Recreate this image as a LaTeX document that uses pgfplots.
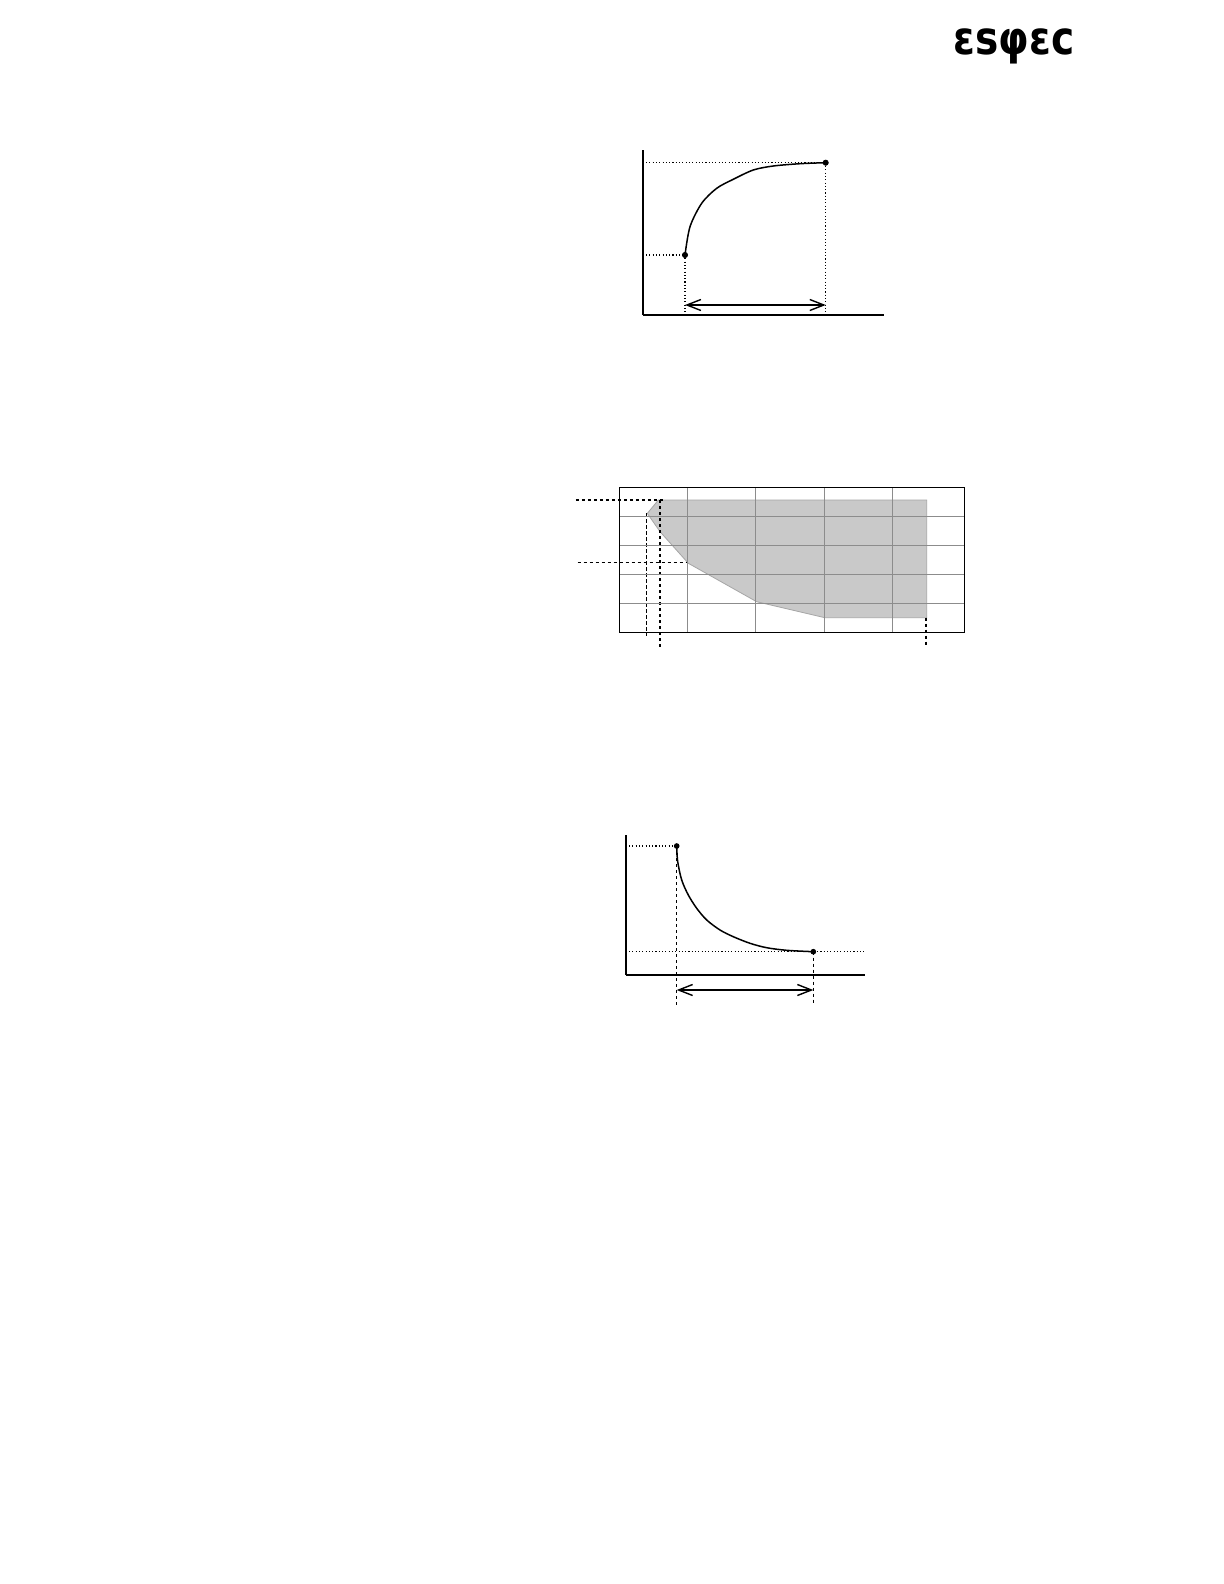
\documentclass[border=0pt]{standalone}
\usepackage{pgfplots}
\pgfplotsset{compat=1.18}
\usepackage{fontspec}
\newfontfamily\logofont{DejaVu Sans}
\usetikzlibrary{arrows.meta}
\tikzset{
  dotl/.style={line width=0.55pt, dash pattern=on 0.55pt off 1.1pt},
  dshl/.style={line width=0.6pt, dash pattern=on 1.6pt off 1.4pt},
  dblarrow/.style={line width=0.7pt, {Straight Barb[length=7pt,width=5.5pt]}-{Straight Barb[length=7pt,width=5.5pt]}},
}
\begin{document}
\begin{tikzpicture}
\fill[white] (0,0) rectangle (612pt,-792pt);
\path[use as bounding box] (0,0) rectangle (612pt,-792pt);
\node[anchor=base, inner sep=0pt, xscale=0.85] at (507pt,-27.5pt) {\logofont\bfseries\fontsize{23}{23}\selectfont εsφεc};

% ---------------- chart 1 ----------------
\begin{axis}[at={(321.35pt,-157.5pt)}, anchor=south west, scale only axis,
  width=120.65pt, height=82.5pt, xmin=0, xmax=241.3, ymin=0, ymax=165,
  axis lines=left, axis line style={-, line width=0.8pt}, ticks=none, clip=false]
\addplot[dotl, black] coordinates {(0,152.3) (183,152.3)};
\addplot[dotl, black] coordinates {(0,60) (42.3,60)};
\addplot[dotl, black] coordinates {(42.3,60) (42.3,0)};
\addplot[dotl, black] coordinates {(183,152.3) (183,-1)};
\addplot[dblarrow, black] coordinates {(42.3,10) (183,10)};
\addplot[black, line width=0.75pt, smooth, tension=0.5] coordinates {
 (42.3,60) (47.3,88.3) (59,111.7) (74,126.7) (90.6,135.7) (110.6,145) (130.6,149) (157.3,151.3) (183,152.3)};
\addplot[only marks, mark=*, mark size=1.3pt, black] coordinates {(42.3,60) (183,152.3)};
\end{axis}

% ---------------- chart 2 ----------------
\begin{axis}[at={(309.65pt,-316.15pt)}, anchor=south west, scale only axis,
  width=172.5pt, height=72.5pt, xmin=0, xmax=5.05, ymin=0, ymax=5,
  xtick={1,2,3,4}, ytick={1,2,3,4}, xticklabels={}, yticklabels={},
  major tick length=0pt, grid=major, grid style={black!45, line width=0.5pt},
  axis line style={line width=0.8pt}, axis on top, clip=false]
\addplot[fill=black!21, draw=black!35, line width=0.4pt] coordinates {
 (0.571,4.56) (4.50,4.56) (4.50,0.503) (3.01,0.503) (2.01,1.055) (1.01,2.38) (0.596,3.47) (0.41,4.10)} -- cycle;
\addplot[black, dshl, line width=0.7pt] coordinates {(-0.634,4.56) (0.669,4.56)};
\addplot[black, dshl, line width=0.7pt] coordinates {(-0.61,2.40) (1.01,2.40)};
\addplot[black, dshl, line width=0.7pt] coordinates {(0.40,4.10) (0.40,-0.117)};
\addplot[black, dshl, line width=0.7pt] coordinates {(0.595,4.56) (0.595,-0.50)};
\addplot[black, dshl, line width=0.7pt] coordinates {(4.49,0.503) (4.49,-0.50)};
\end{axis}

% ---------------- chart 3 ----------------
\begin{axis}[at={(312.85pt,-487.5pt)}, anchor=south west, scale only axis,
  width=119.65pt, height=70pt, xmin=0, xmax=239.3, ymin=0, ymax=140,
  axis lines=left, axis line style={-, line width=0.8pt}, ticks=none, clip=false]
\addplot[dotl, black] coordinates {(0,129) (51,129)};
\addplot[dotl, black] coordinates {(0,23.3) (239.3,23.3)};
\addplot[dshl, black] coordinates {(51,129) (51,-30)};
\addplot[dshl, black] coordinates {(187.6,23.3) (187.6,-30)};
\addplot[dblarrow, black] coordinates {(51,-15) (187.6,-15)};
\addplot[black, line width=0.75pt, smooth, tension=0.5] coordinates {
 (51,129) (52,113.3) (56,95) (62.6,80) (71,66.7) (81,55) (94.3,45) (107.6,38.3) (124.3,31.7) (141,27.3) (161,24.7) (187.6,23.3)};
\addplot[only marks, mark=*, mark size=1.2pt, black] coordinates {(51,129) (187.6,23.3)};
\end{axis}
\end{tikzpicture}
\end{document}
